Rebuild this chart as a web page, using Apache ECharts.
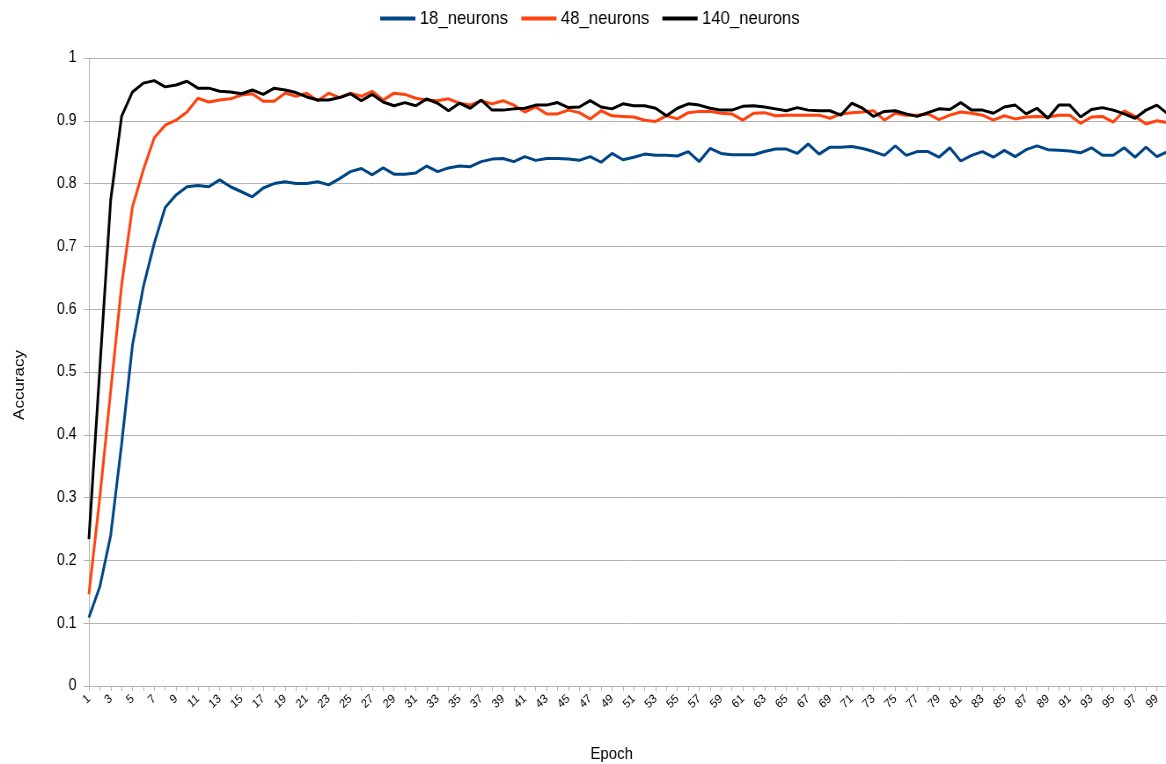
<!DOCTYPE html>
<html>
<head>
<meta charset="utf-8">
<title>Accuracy per epoch</title>
<script src="https://cdn.jsdelivr.net/npm/echarts@6/dist/echarts.min.js"></script>
<style>
  html, body { margin: 0; padding: 0; background: #fff; overflow: hidden; }
  /* the chart is laid out wide and drawn narrow, giving condensed lettering */
  #chart { width: 1325px; height: 764px; transform: scaleX(0.88); transform-origin: 0 0; }
</style>
</head>
<body>
<div id="chart"></div>
<script>
const seriesNames = ['18_neurons', '48_neurons', '140_neurons'];

const epochs = [];
for (let e = 1; e <= 100; e++) epochs.push(String(e));

const yTicks = [0, 0.1, 0.2, 0.3, 0.4, 0.5, 0.6, 0.7, 0.8, 0.9, 1];

const acc18 = [
  0.109, 0.158, 0.240, 0.385, 0.543, 0.636, 0.705, 0.762, 0.782, 0.795,
  0.797, 0.795, 0.806, 0.795, 0.787, 0.779, 0.793, 0.800, 0.803, 0.800,
  0.800, 0.803, 0.798, 0.808, 0.819, 0.824, 0.814, 0.825, 0.815, 0.815,
  0.817, 0.828, 0.819, 0.825, 0.828, 0.827, 0.835, 0.839, 0.840, 0.835,
  0.843, 0.837, 0.840, 0.840, 0.839, 0.837, 0.843, 0.834, 0.848, 0.838,
  0.842, 0.847, 0.845, 0.845, 0.844, 0.851, 0.835, 0.856, 0.848, 0.846,
  0.846, 0.846, 0.851, 0.855, 0.855, 0.848, 0.863, 0.847, 0.858, 0.858,
  0.859, 0.856, 0.851, 0.845, 0.860, 0.845, 0.851, 0.851, 0.842, 0.857,
  0.836, 0.845, 0.851, 0.842, 0.853, 0.843, 0.854, 0.860, 0.854, 0.853,
  0.852, 0.849, 0.857, 0.845, 0.845, 0.857, 0.842, 0.858, 0.843, 0.851
];

const acc48 = [
  0.146, 0.300, 0.470, 0.638, 0.763, 0.822, 0.873, 0.893, 0.901, 0.914,
  0.936, 0.930, 0.933, 0.935, 0.941, 0.943, 0.931, 0.931, 0.944, 0.939,
  0.944, 0.932, 0.944, 0.937, 0.944, 0.939, 0.947, 0.933, 0.944, 0.942,
  0.936, 0.933, 0.932, 0.935, 0.928, 0.925, 0.932, 0.927, 0.932, 0.925,
  0.914, 0.922, 0.911, 0.911, 0.917, 0.913, 0.903, 0.916, 0.908, 0.907,
  0.906, 0.901, 0.899, 0.908, 0.903, 0.913, 0.915, 0.915, 0.912, 0.911,
  0.901, 0.912, 0.913, 0.908, 0.909, 0.909, 0.909, 0.909, 0.904, 0.911,
  0.913, 0.914, 0.916, 0.901, 0.912, 0.909, 0.909, 0.911, 0.902, 0.909,
  0.914, 0.912, 0.909, 0.901, 0.908, 0.903, 0.906, 0.907, 0.906, 0.909,
  0.909, 0.896, 0.906, 0.907, 0.898, 0.916, 0.907, 0.895, 0.900, 0.897
];

const acc140 = [
  0.234, 0.505, 0.774, 0.907, 0.946, 0.960, 0.964, 0.954, 0.957, 0.963,
  0.952, 0.952, 0.947, 0.946, 0.943, 0.949, 0.942, 0.952, 0.949, 0.945,
  0.938, 0.933, 0.933, 0.937, 0.943, 0.932, 0.942, 0.930, 0.924, 0.929,
  0.924, 0.935, 0.928, 0.916, 0.928, 0.920, 0.933, 0.917, 0.917, 0.919,
  0.920, 0.925, 0.925, 0.929, 0.921, 0.922, 0.932, 0.922, 0.919, 0.927,
  0.924, 0.924, 0.920, 0.908, 0.920, 0.927, 0.925, 0.920, 0.917, 0.917,
  0.923, 0.924, 0.922, 0.919, 0.916, 0.921, 0.917, 0.916, 0.916, 0.909,
  0.928, 0.920, 0.907, 0.915, 0.916, 0.911, 0.907, 0.913, 0.919, 0.918,
  0.929, 0.917, 0.917, 0.912, 0.922, 0.925, 0.911, 0.920, 0.904, 0.925,
  0.925, 0.906, 0.918, 0.921, 0.917, 0.911, 0.904, 0.917, 0.925, 0.911
];

const colors = ['#004586', '#ff420e', '#000000'];
const FONT = '"Liberation Sans", Arial, sans-serif';
const GRID_GREY = '#b3b3b3';

const chart = echarts.init(document.getElementById('chart'), null, { renderer: 'canvas' });

chart.setOption({
  animation: false,
  backgroundColor: '#ffffff',
  color: colors,
  textStyle: { fontFamily: FONT, color: '#000' },
  legend: {
    data: seriesNames,
    left: 427,
    top: 4,
    icon: 'rect',
    itemWidth: 40,
    itemHeight: 4,
    itemGap: 15,
    textStyle: { fontFamily: FONT, fontSize: 19, color: '#000' }
  },
  grid: {
    left: 101,
    top: 58,
    width: 1226,
    height: 628,
    containLabel: false,
    outerBoundsMode: 'none'
  },
  xAxis: {
    type: 'category',
    data: epochs,
    boundaryGap: false,
    name: 'Epoch',
    nameLocation: 'middle',
    nameGap: 60,
    nameTextStyle: { fontFamily: FONT, fontSize: 17, color: '#000', padding: [0, 38, 0, 0] },
    axisLine: { show: true, lineStyle: { color: GRID_GREY, width: 1 } },
    axisTick: { show: true, interval: 0, length: 5, lineStyle: { color: GRID_GREY } },
    axisLabel: {
      interval: 1,
      rotate: 42,
      margin: 11,
      fontFamily: FONT,
      fontSize: 12.5,
      color: '#000'
    },
    splitLine: { show: false }
  },
  yAxis: {
    type: 'value',
    min: yTicks[0],
    max: yTicks[yTicks.length - 1],
    interval: 0.1,
    name: 'Accuracy',
    nameLocation: 'middle',
    nameRotate: 90,
    nameGap: 70,
    nameTextStyle: { fontFamily: FONT, fontSize: 17, color: '#000', padding: [0, 26, 0, 0] },
    axisLine: { show: true, lineStyle: { color: GRID_GREY, width: 1 } },
    axisTick: { show: true, length: 6, lineStyle: { color: GRID_GREY } },
    axisLabel: {
      margin: 14,
      fontFamily: FONT,
      fontSize: 16,
      color: '#000',
      formatter: v => String(+v.toFixed(1))
    },
    splitLine: { show: true, lineStyle: { color: GRID_GREY, width: 1 } }
  },
  series: [
    { name: seriesNames[0], type: 'line', data: acc18, showSymbol: false, symbol: 'none', lineStyle: { width: 3 }, z: 2 },
    { name: seriesNames[1], type: 'line', data: acc48, showSymbol: false, symbol: 'none', lineStyle: { width: 3 }, z: 3 },
    { name: seriesNames[2], type: 'line', data: acc140, showSymbol: false, symbol: 'none', lineStyle: { width: 3 }, z: 4 }
  ]
});
</script>
</body>
</html>
